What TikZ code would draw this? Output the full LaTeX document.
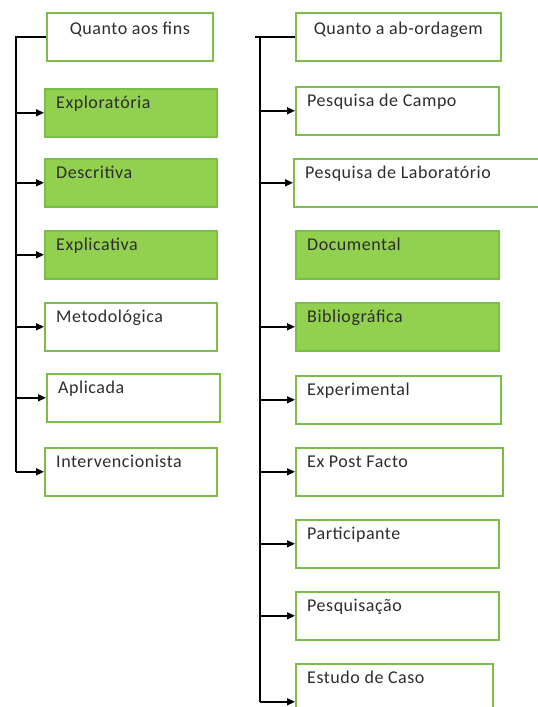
\documentclass[tikz,border=0pt]{standalone}
\usepackage{fontspec}
\setmainfont{Carlito}[LetterSpace=3]
\usetikzlibrary{arrows.meta}
\definecolor{gfill}{RGB}{146,208,80}
\definecolor{gline}{RGB}{122,190,72}
\definecolor{txt}{RGB}{45,45,45}
\tikzset{
  box/.style={draw=gline, line width=1.6pt, rectangle, anchor=north west, minimum height=48pt, inner sep=0pt},
  fbox/.style={box, fill=gfill},
  lbl/.style={anchor=base west, text=txt, inner sep=0pt, font=\fontsize{18}{20}\selectfont, xshift=12pt, yshift=-20pt},
  tlbl/.style={anchor=base, text=txt, inner sep=0pt, font=\fontsize{18}{20}\selectfont, yshift=-22pt},
  conn/.style={draw=black, line width=1.4pt},
  arr/.style={conn, -{Triangle[length=8pt,width=7pt]}}
}
\begin{document}
\begin{tikzpicture}[x=1pt,y=-1pt]
\useasboundingbox (0,0) rectangle (538,707);
% left column
\node[box, minimum width=166pt, label={[tlbl]north:Quanto aos fins}] (fins) at (46,12) {};
\node[fbox, minimum width=172pt, label={[lbl]north west:Exploratória}] (explo) at (44,88) {};
\node[fbox, minimum width=172pt, label={[lbl]north west:Descritiva}] (desc) at (44,158) {};
\node[fbox, minimum width=172pt, label={[lbl]north west:Explicativa}] (expli) at (44,230) {};
\node[box, minimum width=172pt, label={[lbl]north west:Metodológica}] (meto) at (44,302) {};
\node[box, minimum width=173pt, label={[lbl]north west:Aplicada}] (apli) at (46,373) {};
\node[box, minimum width=172pt, label={[lbl]north west:Intervencionista}] (inter) at (44,447) {};
\coordinate (L) at (16,0);
\draw[conn] (fins.west) -- (L |- fins.west) -- (L |- inter.west);
\foreach \n in {explo,desc,expli,meto,apli,inter}
  \draw[arr] (L |- \n.west) -- (\n.west);
% right column
\node[box, minimum width=205pt, label={[tlbl]north:Quanto a ab-ordagem}] (abord) at (295,12) {};
\node[box, minimum width=203pt, label={[lbl]north west:Pesquisa de Campo}] (campo) at (295,86) {};
\node[box, minimum width=260pt, label={[lbl]north west:Pesquisa de Laboratório}] (lab) at (293,158) {};
\node[fbox, minimum width=203pt, label={[lbl]north west:Documental}] (docu) at (295,230) {};
\node[fbox, minimum width=203pt, label={[lbl]north west:Bibliográfica}] (biblio) at (295,302) {};
\node[box, minimum width=205pt, label={[lbl]north west:Experimental}] (exper) at (295,375) {};
\node[box, minimum width=207pt, label={[lbl]north west:Ex Post Facto}] (expost) at (295,447) {};
\node[box, minimum width=203pt, label={[lbl]north west:Participante}] (parti) at (295,519) {};
\node[box, minimum width=203pt, label={[lbl]north west:Pesquisação}] (pesqa) at (295,591) {};
\node[box, minimum width=197pt, label={[lbl]north west:Estudo de Caso}] (estudo) at (295,663) {};
\coordinate (R) at (260,0);
\coordinate (Rtick) at (255,0);
\coordinate (Rend) at ([yshift=-14pt]estudo.west);
\draw[conn] (abord.west) -- (Rtick |- abord.west);
\draw[conn] (R |- abord.west) -- (R |- Rend);
\foreach \n in {campo,lab,biblio,exper,expost,parti,pesqa}
  \draw[arr] (R |- \n.west) -- (\n.west);
\draw[arr] (R |- Rend) -- (Rend);
\end{tikzpicture}
\end{document}
